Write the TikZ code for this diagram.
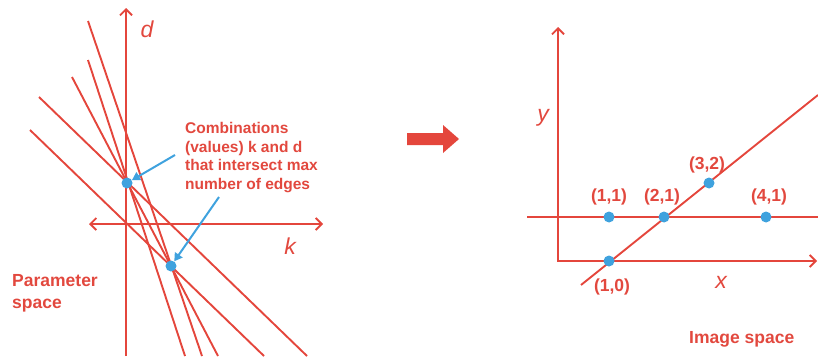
\documentclass[tikz,border=0pt]{standalone}
\usepackage{fontspec}
\setmainfont{Liberation Sans}
\usetikzlibrary{arrows.meta}
\definecolor{lred}{HTML}{E4463C}
\definecolor{tred}{HTML}{E2483E}
\definecolor{pblue}{HTML}{3FA2DE}
\begin{document}
\begin{tikzpicture}[x=1pt,y=-1pt,
  hline/.style={draw=lred,line width=1.9pt},
  barb/.tip={Straight Barb[length=6pt,width=12pt,line width=1.8pt]},
  axis/.style={draw=lred,line width=2pt,-barb},
  dot/.style={circle,fill=pblue,inner sep=0pt,minimum size=11pt},
  lbl/.style={text=tred,inner sep=0pt,font=\bfseries\fontsize{17.5}{22}\selectfont},
  note/.style={text=tred,inner sep=0pt,align=left,font=\bfseries\fontsize{15.5}{18.7}\selectfont},
  axlbl/.style={text=tred,inner sep=0pt,font=\itshape\fontsize{23}{26}\selectfont},
  barrow/.style={draw=pblue,line width=2pt,-{Triangle[length=8pt,width=9pt]}}
]
\useasboundingbox (0,0) rectangle (818,356);

% ---------------- parameter space ----------------
\draw[axis] (126,356) -- (126,8);
\draw[axis,barb-barb] (89,224) -- (323,224);
\node[axlbl,anchor=base] (dl) at (147,37) {d};
\node[axlbl,anchor=base] (kl) at (290,254) {k};

\draw[hline] (39,97) -- (307,356);
\draw[hline] (30,130) -- (264,356);
\draw[hline] (72,77) -- (218,356);
\draw[hline] (88,60) -- (185,356);
\draw[hline] (88,21) -- (202,356);

\node[dot] (p1) at (127,183) {};
\node[dot] (p2) at (171,266) {};

\node[note,anchor=north west] (comb) at (185,122)
  {Combinations\\(values) k and d\\that intersect max\\number of edges};
\coordinate (a1) at (175,155);
\coordinate (a2) at (219,197);
\draw[barrow] (a1) -- (p1);
\draw[barrow] (a2) -- (p2);

\node[lbl,anchor=base west,align=left] (ps) at (12,308) {Parameter\\space};

% ---------------- big arrow ----------------
\fill[lred] (407,133) -- (443,133) -- (443,125) -- (459,139) -- (443,153) -- (443,145) -- (407,145) -- cycle;

% ---------------- image space ----------------
\draw[axis,barb-barb] (558,27) -- (558,261) -- (817,261);
\node[axlbl,anchor=base] (yl) at (543,121) {y};
\node[axlbl,anchor=base] (xl) at (721,288) {x};

\draw[hline] (527,217) -- (818,217);
\draw[hline] (581,285) -- (818,95);

\node[dot] (q10) at (609,261) {};
\node[dot] (q11) at (609,217) {};
\node[dot] (q21) at (664,217) {};
\node[dot] (q32) at (709,183) {};
\node[dot] (q41) at (766,217) {};

\node[lbl,anchor=base] at (609,201) {(1,1)};
\node[lbl,anchor=base] at (662,201) {(2,1)};
\node[lbl,anchor=base] at (769,201) {(4,1)};
\node[lbl,anchor=base] at (707,169) {(3,2)};
\node[lbl,anchor=base] at (612,291) {(1,0)};

\node[lbl,anchor=base west] (is) at (689,343) {Image space};
\end{tikzpicture}
\end{document}
